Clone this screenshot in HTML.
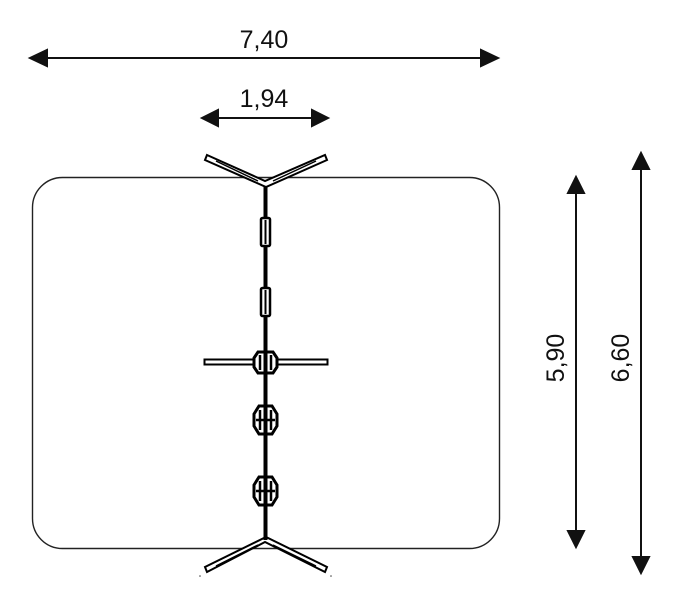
<!DOCTYPE html>
<html><head><meta charset="utf-8"><style>body{margin:0;background:#fff}svg{display:block}</style></head>
<body>
<svg width="678" height="599" viewBox="0 0 678 599" xmlns="http://www.w3.org/2000/svg" font-family="Liberation Sans, sans-serif">
<rect x="32.5" y="177.5" width="467" height="371" rx="30" fill="none" stroke="#222" stroke-width="1.4"/>
<g stroke="#111" stroke-width="2" fill="#111">
<line x1="40" y1="58" x2="488" y2="58"/>
<polygon points="30,58 47,50 47,66"/><polygon points="498,58 481,50 481,66"/>
<line x1="212" y1="118" x2="318" y2="118"/>
<polygon points="202,118 218,110 218,126"/><polygon points="328,118 312,110 312,126"/>
<line x1="576" y1="188" x2="576" y2="537"/>
<polygon points="576,177 568,193 584,193"/><polygon points="576,547 568,531 584,531"/>
<line x1="641" y1="163" x2="641" y2="562"/>
<polygon points="641,153 633,169 649,169"/><polygon points="641,573 633,557 649,557"/>
</g>
<g font-size="25" fill="#111" text-anchor="middle">
<text x="264" y="48">7,40</text>
<text x="264" y="107">1,94</text>
<text transform="translate(564,358) rotate(-90)">5,90</text>
<text transform="translate(629,358) rotate(-90)">6,60</text>
</g>
<g stroke="#000" fill="#fff">
<line x1="265.5" y1="184" x2="265.5" y2="542" stroke-width="4"/>
<g stroke-width="2">
<path d="M207,155 L265,181 L325,155 L327,160 L266,187 L205,160 Z"/>
<path d="M207,572 L265,542 L325,572 L327,567 L266,537 L205,567 Z"/>
<rect x="204.5" y="359.5" width="123" height="5"/>
<rect x="261" y="218" width="9" height="28" rx="1.5" stroke-width="2.5"/>
<rect x="261" y="288" width="9" height="28" rx="1.5" stroke-width="2.5"/>
</g>
<line x1="216" y1="161" x2="258" y2="181" stroke-width="1.5"/>
<line x1="316" y1="161" x2="273" y2="181" stroke-width="1.5"/>
<line x1="216" y1="566" x2="258" y2="545" stroke-width="1.5"/>
<line x1="316" y1="566" x2="273" y2="545" stroke-width="1.5"/>
<line x1="265.5" y1="220" x2="265.5" y2="244" stroke-width="2"/>
<line x1="265.5" y1="290" x2="265.5" y2="314" stroke-width="2"/>
<g stroke-width="3">
<path d="M258,352 L273,352 L277,358 L277,367 L273,373 L258,373 L254,367 L254,358 Z"/>
<path d="M259,406 L272,406 L277,414 L277,426 L272,434 L259,434 L254,426 L254,414 Z"/>
<path d="M259,477 L272,477 L277,485 L277,497 L272,505 L259,505 L254,497 L254,485 Z"/>
</g>
<g stroke-width="2.5">
<line x1="260" y1="410" x2="260" y2="430"/><line x1="271" y1="410" x2="271" y2="430"/>
<line x1="260" y1="481" x2="260" y2="501"/><line x1="271" y1="481" x2="271" y2="501"/>
<line x1="256" y1="420" x2="275" y2="420"/><line x1="256" y1="491" x2="275" y2="491"/>
<line x1="260" y1="355" x2="260" y2="370"/><line x1="271" y1="355" x2="271" y2="370"/>
</g>
<line x1="265.5" y1="350" x2="265.5" y2="540" stroke-width="4"/>
</g>
<circle cx="200" cy="576" r="0.8" fill="#444"/><circle cx="331" cy="576" r="0.8" fill="#444"/>
</svg>
</body></html>
